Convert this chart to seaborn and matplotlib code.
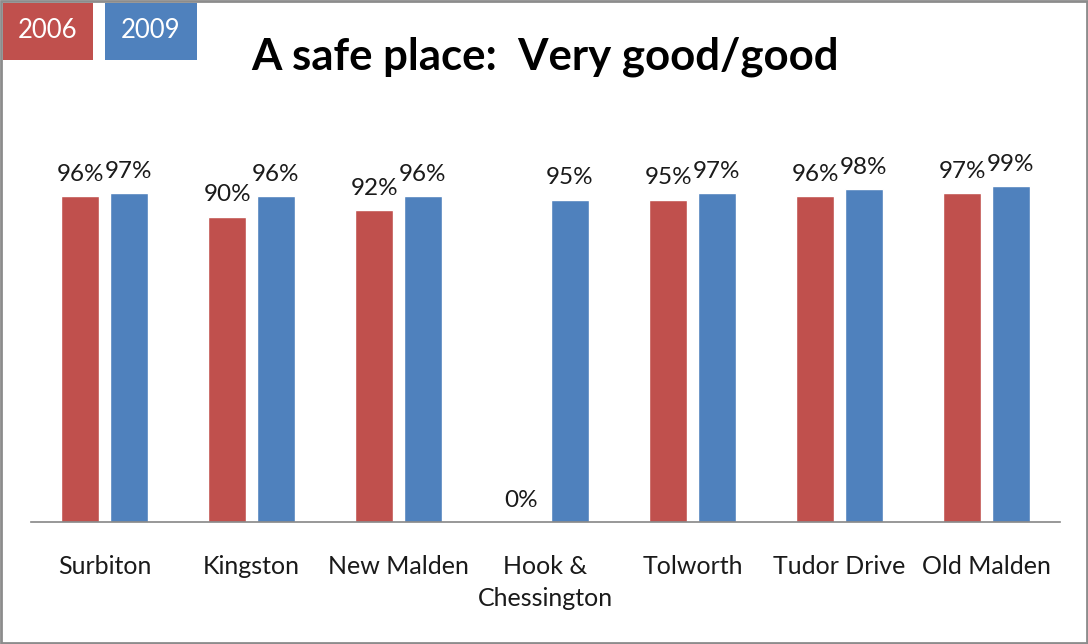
import matplotlib
matplotlib.use("Agg")
import matplotlib.pyplot as plt
import seaborn as sns
import pandas as pd
from matplotlib.patches import Rectangle

areas = ["Surbiton", "Kingston", "New Malden", "Hook &\nChessington", "Tolworth", "Tudor Drive", "Old Malden"]
years = ["2006", "2009"]
values_2006 = [96, 90, 92, 0, 95, 96, 97]
values_2009 = [97, 96, 96, 95, 97, 98, 99]
colors = ["#C0504D", "#4F81BD"]
title = "A safe place:  Very good/good"

df = pd.DataFrame({
    "area": areas * 2,
    "year": [years[0]] * len(areas) + [years[1]] * len(areas),
    "value": values_2006 + values_2009,
})

sns.set_theme(style="white")
plt.rcParams["font.family"] = ["Lato", "DejaVu Sans"]

W, H = 1088, 644
fig = plt.figure(figsize=(W / 100, H / 100), dpi=100)
ax = fig.add_axes([31 / W, (H - 522) / H, (1060 - 31) / W, 0.6325])

sns.barplot(data=df, x="area", y="value", hue="year", order=areas, hue_order=years,
            palette=colors, width=0.66, gap=0.217, ax=ax, legend=False, saturation=1)

ax.set_xlim(-0.5, len(areas) - 0.5)
ax.set_ylim(0, 120)
ax.set_xlabel("")
ax.set_ylabel("")
ax.set_yticks([])
for s in ["top", "right", "left"]:
    ax.spines[s].set_visible(False)
ax.spines["bottom"].set_color("#868686")
ax.spines["bottom"].set_linewidth(1.2)
ax.tick_params(axis="x", length=0, pad=24, labelsize=18, labelcolor="#1a1a1a")
for lbl in ax.get_xticklabels():
    lbl.set_linespacing(1.45)

for cont in ax.containers:
    ax.bar_label(cont, fmt="%.0f%%", padding=8, fontsize=17.5, color="#1a1a1a")

fig.text(545 / W, 1 - 57 / H, title, ha="center", va="center", fontsize=31.5,
         fontweight="bold", color="black")

# figure border
fig.patches.append(Rectangle((1 / W, 1 / H), (W - 2) / W, (H - 2) / H, transform=fig.transFigure,
                             fill=False, edgecolor="#8c8c8c", linewidth=2))

# legend boxes
boxes = [(3, 93), (105, 197)]
for (x0, x1), yr, c in zip(boxes, years, colors):
    fig.patches.append(Rectangle((x0 / W, 1 - 60 / H), (x1 - x0) / W, 57 / H,
                                 transform=fig.transFigure, facecolor=c, edgecolor="none"))
    fig.text((x0 + x1) / 2 / W, 1 - 31 / H, yr, ha="center", va="center",
             fontsize=18.5, color="white")

fig.savefig("out.png", dpi=100, facecolor="white")
